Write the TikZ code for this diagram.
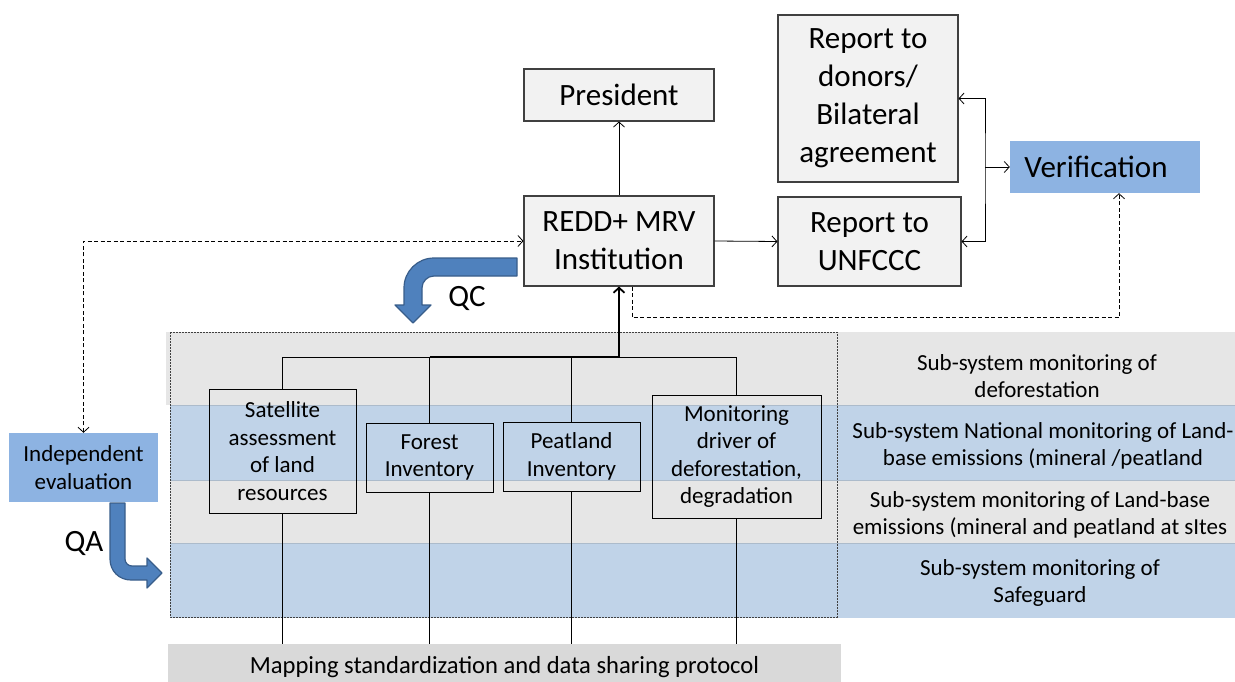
\documentclass[tikz,border=0pt]{standalone}
\usepackage{fontspec}
\setmainfont{Carlito}
\usetikzlibrary{arrows.meta}
\definecolor{boxfill}{HTML}{F2F2F2}
\definecolor{boxline}{HTML}{404040}
\definecolor{lightblue}{HTML}{8DB3E2}
\definecolor{arrowblue}{HTML}{4F81BD}
\definecolor{arrowedge}{HTML}{385D8A}
\definecolor{bandgray}{HTML}{E6E6E6}
\definecolor{bandblue}{HTML}{C0D3E8}
\definecolor{mapgray}{HTML}{D9D9D9}
\begin{document}
\begin{tikzpicture}[x=1pt,y=-1pt,
  bigfont/.style={font=\fontsize{31}{38}\selectfont},
  smallfont/.style={font=\fontsize{23}{27.5}\selectfont},
  topbox/.style={draw=boxline,fill=boxfill,line width=1.1pt,inner sep=0pt,align=center,bigfont},
  bluebox/.style={fill=lightblue,inner sep=0pt,align=center},
  subbox/.style={draw=black,line width=0.9pt,inner sep=0pt,align=center,smallfont},
  bandlabel/.style={inner sep=0pt,align=center,smallfont},
  conn/.style={line width=0.8pt,-{Straight Barb[length=5pt,width=11pt]}},
  dconn/.style={conn,dash pattern=on 4pt off 2.5pt},
  bigarrow/.style={fill=arrowblue,draw=arrowedge,line width=1.2pt,line join=round}]
\useasboundingbox (0,0) rectangle (1235,682);

% horizontal bands of the sub-systems
\fill[bandgray] (166,332) rectangle (1235,405);
\fill[bandblue] (170,405) rectangle (1235,480);
\fill[bandgray] (170,480) rectangle (1235,543);
\fill[bandblue] (170,543) rectangle (1235,618);
\draw[bandblue!85!black!90,line width=0.6pt] (170,405) -- (1235,405) (170,480) -- (1235,480) (170,543) -- (1235,543);

% dashed frame round the monitoring components
\draw[boxline,line width=0.8pt,dash pattern=on 2pt off 1pt] (170,332) rectangle (837,617);

% sub-system labels
\node[bandlabel] (b1) at (1037,376) {Sub-system monitoring of\\deforestation};
\node[bandlabel] (b2) at (1043,446) {Sub-system National monitoring of Land-\\base emissions (mineral /peatland};
\node[bandlabel] (b3) at (1040,515) {Sub-system monitoring of Land-base\\emissions (mineral and peatland at sItes};
\node[bandlabel] (b4) at (1040,583) {Sub-system monitoring of\\Safeguard};

% mapping protocol bar
\node[fill=mapgray,minimum width=673pt,minimum height=46pt,inner sep=0pt,font=\fontsize{24.6}{29}\selectfont] (map) at (504.5,667) {Mapping standardization and data sharing protocol};
\coordinate (maptop) at (504.5,644);

% top level boxes
\node[topbox,minimum width=190pt,minimum height=52pt] (pres) at (619,95) {President};
\node[topbox,minimum width=190pt,minimum height=90pt] (redd) at (619,241) {REDD+ MRV\\Institution};
\node[topbox,minimum width=180pt,minimum height=167pt] (don) at (868,98.5) {Report to\\donors/\\Bilateral\\agreement};
\node[topbox,minimum width=183pt,minimum height=89pt] (unf) at (869.5,241.5) {Report to\\UNFCCC};
\node[bluebox,bigfont,minimum width=190pt,minimum height=52pt] (ver) at (1105,167) {Verification\hspace*{18pt}};
\node[bluebox,smallfont,minimum width=149pt,minimum height=69pt] (ind) at (83.5,467.5) {Independent\\evaluation};

% monitoring components
\node[subbox,minimum width=147pt,minimum height=124pt] (sat) at (282.5,451) {Satellite\\assessment\\of land\\resources};
\node[subbox,minimum width=127pt,minimum height=69pt] (for) at (429.5,457.5) {Forest\\Inventory};
\node[subbox,minimum width=137pt,minimum height=69pt] (peat) at (571.5,456.5) {Peatland\\Inventory};
\node[subbox,minimum width=169pt,minimum height=123pt] (mon) at (736.5,456.5) {Monitoring\\driver of\\deforestation,\\degradation};

% tree joining the components to the institution
\coordinate (hub) at (619,357);
\draw[line width=0.9pt] (sat.north) -- (sat.north |- hub) -- (mon.north |- hub) -- (mon.north);
\draw[line width=0.9pt] (for.north) -- (for.north |- hub);
\draw[line width=0.9pt] (peat.north) -- (peat.north |- hub);
\draw[line width=1.4pt] (for.north |- hub) -- (hub);
\draw[conn,line width=1.8pt] (hub) -- (redd.south);

% components down to the protocol bar
\foreach \n in {sat,for,peat,mon}{
  \draw[line width=0.9pt] (\n.south) -- (\n.south |- maptop);
}

% reporting connectors
\draw[conn] (redd.north) -- (pres.south);
\draw[conn] (redd.east) -- (unf.west);
\coordinate (br) at (985,167);
\draw[conn,{Straight Barb[length=5pt,width=11pt]}-{Straight Barb[length=5pt,width=11pt]}] (don.east) -| (br) |- (unf.east);
\draw[conn] (br) -- (ver.west);

% dashed feedback connectors
\draw[dconn] ([xshift=13pt]redd.south) -- ++(0,31) -| ([xshift=14pt]ver.south);
\draw[dconn,{Straight Barb[length=5pt,width=11pt]}-{Straight Barb[length=5pt,width=11pt]}] (ind.north) |- (redd.west);

% QC bent arrow
\draw[bigarrow] (517,258) -- (434,258) .. controls (417.4,258) and (404,271.4) .. (404,288)
  -- (404,305) -- (395,305) -- (413,323) -- (431,305) -- (422,305) -- (422,288)
  .. controls (422,281.4) and (427.4,276) .. (434,276) -- (517,276) -- cycle;
\node[bigfont,inner sep=0pt] (qc) at (467,298) {QC};

% QA bent arrow
\draw[bigarrow] (110,503) -- (110,559) .. controls (110,571) and (119,580) .. (131,580)
  -- (147,580) -- (147,588) -- (162,573) -- (147,558) -- (147,566) -- (132,566)
  .. controls (128.1,566) and (125,562.9) .. (125,559) -- (125,503) -- cycle;
\node[bigfont,inner sep=0pt] (qa) at (84,543) {QA};
\end{tikzpicture}
\end{document}
